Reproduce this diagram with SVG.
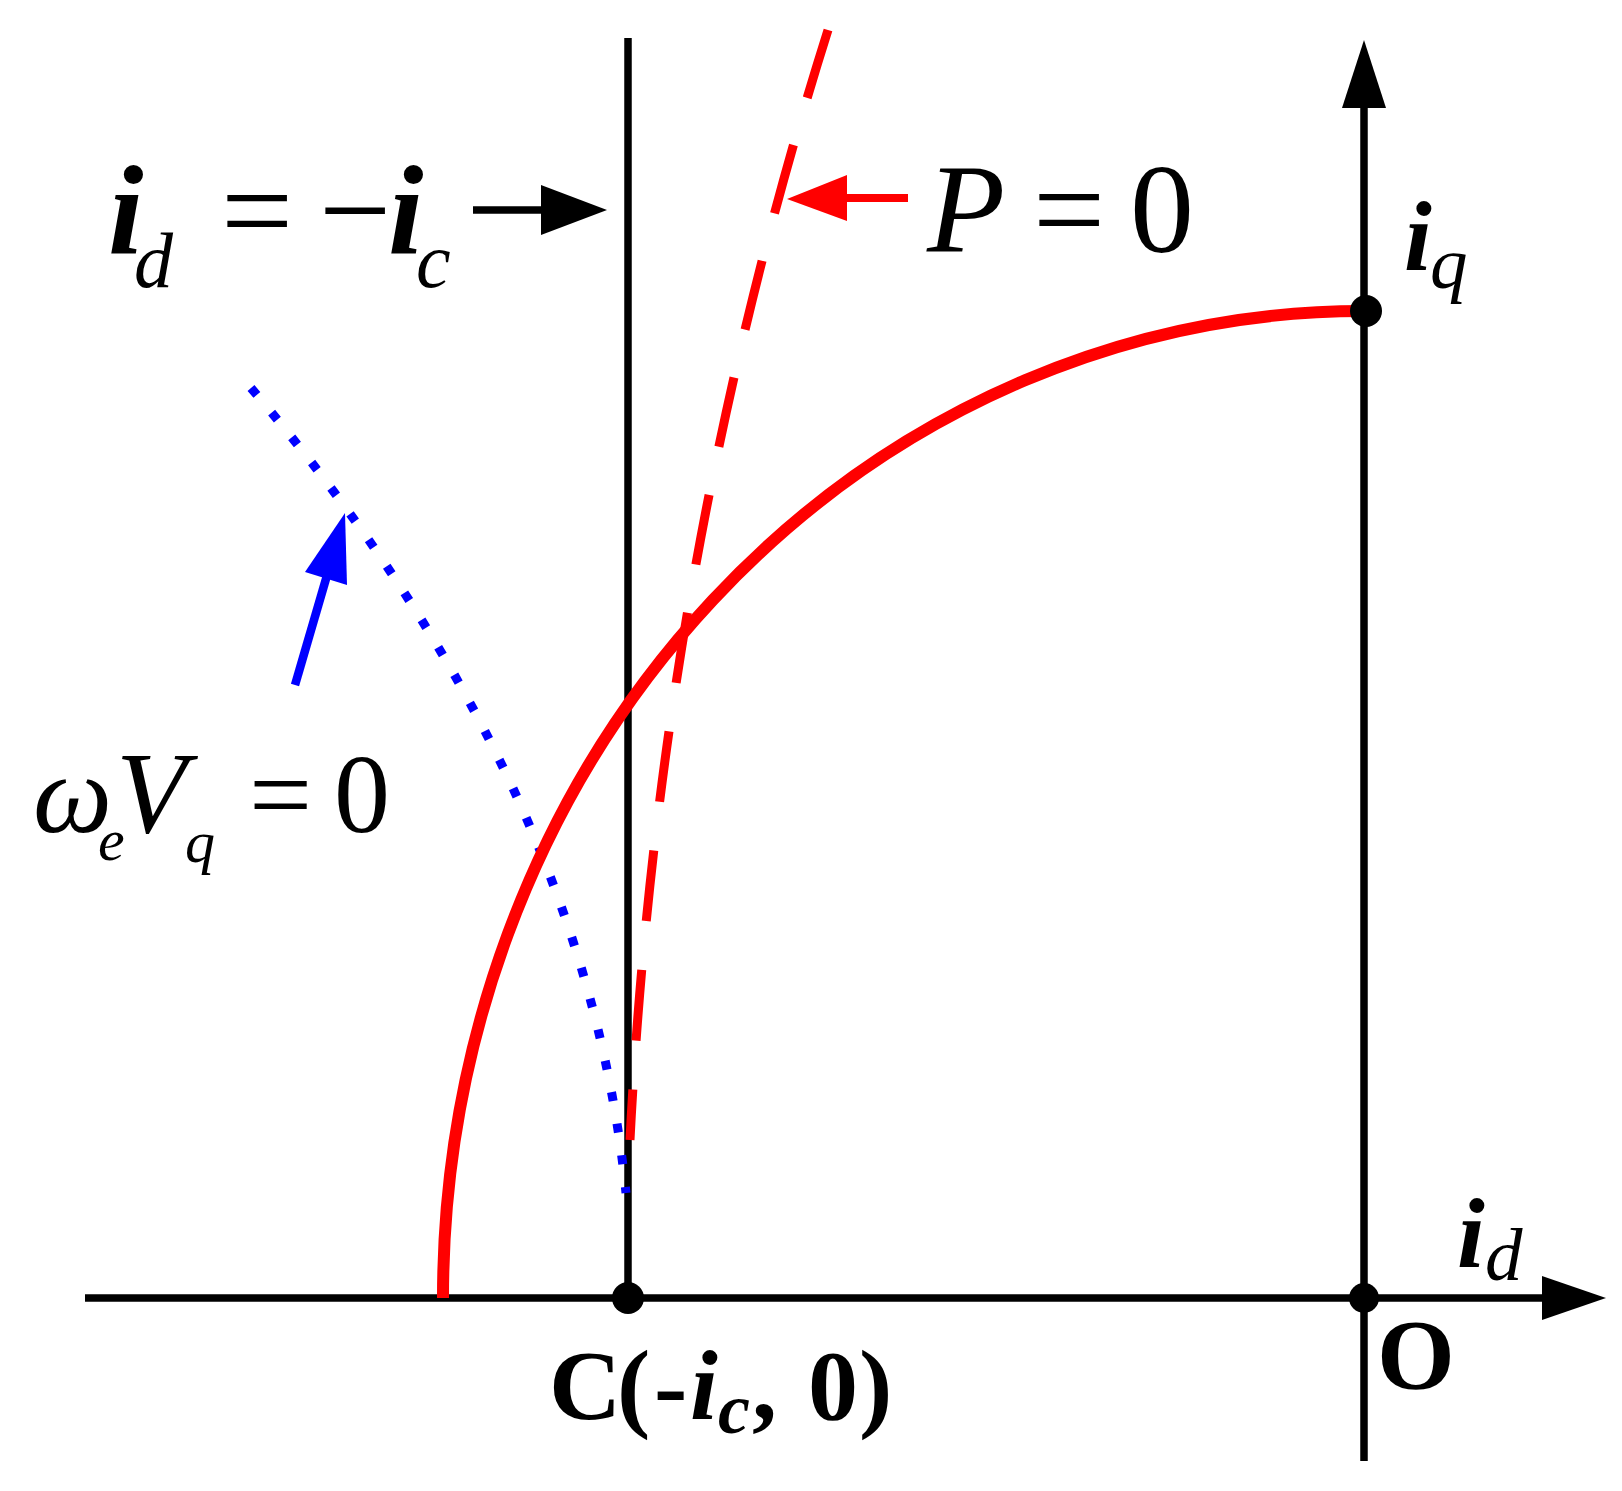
<svg xmlns="http://www.w3.org/2000/svg" width="1622" height="1491" viewBox="0 0 1622 1491">
<style>
.t{font-family:"Liberation Serif","Times New Roman",serif;fill:#000}
.it{font-style:italic}
.bi{font-style:italic;font-weight:bold}
.b{font-weight:bold}
.ax{stroke:#000;stroke-width:7.5;fill:none}
.red{stroke:#ff0000;fill:none}
</style>
<rect width="1622" height="1491" fill="#fff"/>
<g id="connectors">
  <!-- x axis -->
  <line class="ax" x1="85" y1="1298" x2="1548" y2="1298"/>
  <polygon points="1542,1276 1606,1298 1542,1320" fill="#000"/>
  <!-- y axis -->
  <line class="ax" x1="1364" y1="1461" x2="1364" y2="102"/>
  <polygon points="1342,108 1364,40 1386,108" fill="#000"/>
  <!-- id = -ic line -->
  <line class="ax" x1="628" y1="38" x2="628" y2="1298"/>
  <!-- blue dotted curve -->
  <path d="M251,388 Q585,781 626,1193" stroke="#0000ff" stroke-width="9" fill="none" stroke-dasharray="9 23"/>
  <!-- red circle arc -->
  <path class="red" d="M443,1298 A921,987 0 0 1 1364,311" stroke-width="12"/>
  <!-- red dashed P=0 -->
  <path class="red" d="M828,30 Q659,565 630,1140" stroke-width="9" stroke-dasharray="71 49"/>
  <!-- label arrows -->
  <line x1="473" y1="210" x2="545" y2="210" stroke="#000" stroke-width="7.5"/>
  <polygon points="541,185 607,210 541,235" fill="#000"/>
  <line x1="845" y1="198" x2="908" y2="198" stroke="#ff0000" stroke-width="8"/>
  <polygon points="847,175 787,199 847,221" fill="#ff0000"/>
  <line x1="295" y1="685" x2="328" y2="572" stroke="#0000ff" stroke-width="8.5"/>
  <polygon points="305,572 345,513 347,585" fill="#0000ff"/>
</g>
<g id="point-C"><circle cx="628" cy="1298" r="16" fill="#000"/></g>
<g id="point-O"><circle cx="1364" cy="1298" r="15" fill="#000"/></g>
<g id="point-iq"><circle cx="1366" cy="311" r="16" fill="#000"/></g>
<g id="label-id-eq">
  <text class="t"><tspan class="bi" x="108" y="253" font-size="128">i</tspan><tspan class="it" x="134" y="287" font-size="78">d</tspan><tspan x="221" y="253" font-size="128">=</tspan><tspan x="319" y="253" font-size="128">−</tspan><tspan class="bi" x="388" y="253" font-size="128">i</tspan><tspan class="it" x="416" y="287" font-size="78">c</tspan></text>
</g>
<g id="label-P">
  <text class="t"><tspan class="it" x="927" y="252" font-size="128">P</tspan><tspan x="1033" y="252" font-size="128">=</tspan><tspan x="1130" y="252" font-size="128">0</tspan></text>
</g>
<g id="label-wV">
  <text class="t"><tspan class="it" x="33" y="832" font-size="112">ω</tspan><tspan class="it" x="98" y="860" font-size="60">e</tspan><tspan class="it" x="116" y="832" font-size="116">V</tspan><tspan class="it" x="185" y="862" font-size="60">q</tspan><tspan x="249" y="832" font-size="112">=</tspan><tspan x="334" y="832" font-size="112">0</tspan></text>
</g>
<g id="label-iq">
  <text class="t"><tspan class="bi" x="1404" y="270" font-size="100">i</tspan><tspan class="it" x="1430" y="288" font-size="75">q</tspan></text>
</g>
<g id="label-id">
  <text class="t"><tspan class="bi" x="1457" y="1267" font-size="100">i</tspan><tspan class="it" x="1485" y="1280" font-size="75">d</tspan></text>
</g>
<g id="label-O">
  <text class="t b" x="1377" y="1388" font-size="100">O</text>
</g>
<g id="label-C">
  <text class="t b" font-size="100"><tspan x="549" y="1419">C</tspan><tspan x="617" y="1419">(</tspan><tspan x="654" y="1419">-</tspan><tspan class="bi" x="690" y="1419">i</tspan><tspan class="bi" x="718" y="1433" font-size="72">c</tspan><tspan x="752" y="1419">,</tspan><tspan x="808" y="1419">0</tspan><tspan x="859" y="1419">)</tspan></text>
</g>
</svg>
